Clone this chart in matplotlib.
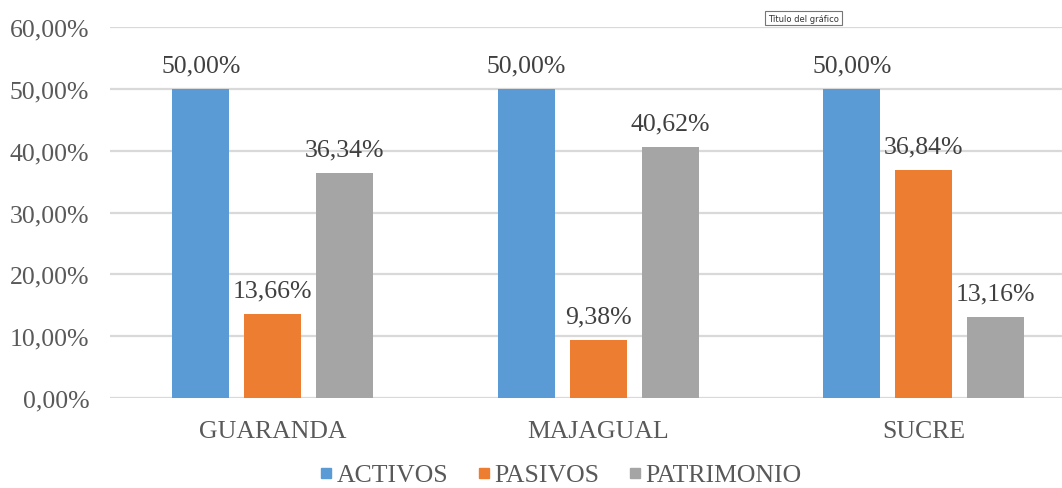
import numpy as np
import matplotlib
matplotlib.use("Agg")
import matplotlib.pyplot as plt
from matplotlib.lines import Line2D

categories = ["GUARANDA", "MAJAGUAL", "SUCRE"]
series_names = ["ACTIVOS", "PASIVOS", "PATRIMONIO"]
activos = [50.00, 50.00, 50.00]
pasivos = [13.66, 9.38, 36.84]
patrimonio = [36.34, 40.62, 13.16]
yticks = [0, 10, 20, 30, 40, 50, 60]

colors = ["#5B9BD5", "#ED7D31", "#A5A5A5"]
text_color = "#595959"
grid_color = "#D9D9D9"
serif = ["Liberation Serif", "DejaVu Serif"]

plt.rcParams["font.family"] = serif

fig = plt.figure(figsize=(10.62, 4.89), dpi=100)
ax = fig.add_axes([110 / 1062, 90 / 489, 976.5 / 1062, 371 / 489])

x = np.arange(len(categories))
width = 0.175
step = 0.221
values = [activos, pasivos, patrimonio]

def fmt(v):
    return f"{v:.2f}".replace(".", ",") + "%"

for i, (vals, col) in enumerate(zip(values, colors)):
    pos = x + (i - 1) * step
    ax.bar(pos, vals, width=width, color=col, zorder=3)
    for p, v in zip(pos, vals):
        ax.annotate(fmt(v), (p, v), xytext=(0, 9), textcoords="offset points",
                    ha="center", va="bottom", fontsize=18.5, color="#404040")

ax.set_xlim(-0.5, len(categories) - 0.5)
ax.set_ylim(0, 60)
ax.set_yticks(yticks)
ax.set_yticklabels([fmt(t) for t in yticks])
ax.set_xticks(x)
ax.set_xticklabels(categories)
ax.tick_params(axis="both", length=0, labelsize=18.5, labelcolor=text_color)
ax.tick_params(axis="y", pad=15)
ax.tick_params(axis="x", pad=16)
ax.yaxis.grid(True, color=grid_color, linewidth=1.6, zorder=0)
for s in ax.spines.values():
    s.set_visible(False)

handles = [Line2D([], [], marker="s", linestyle="none", markersize=7.5,
                  markerfacecolor=c, markeredgecolor=c) for c in colors]
fig.legend(handles, series_names, loc="center", ncol=3, frameon=False,
           bbox_to_anchor=(560 / 1062, 1 - 476 / 489), fontsize=18.5,
           labelcolor=text_color, handletextpad=0.1, columnspacing=1.1,
           handlelength=0.6, borderpad=0, borderaxespad=0)

fig.text(768 / 1062, 1 - 19 / 489, "Título del gráfico", family="DejaVu Sans",
         fontsize=6, color="#333333", ha="left", va="center",
         bbox=dict(boxstyle="square,pad=0.35", facecolor="white",
                   edgecolor="#767676", linewidth=0.8))

fig.savefig("out.png", dpi=100, facecolor="white")
